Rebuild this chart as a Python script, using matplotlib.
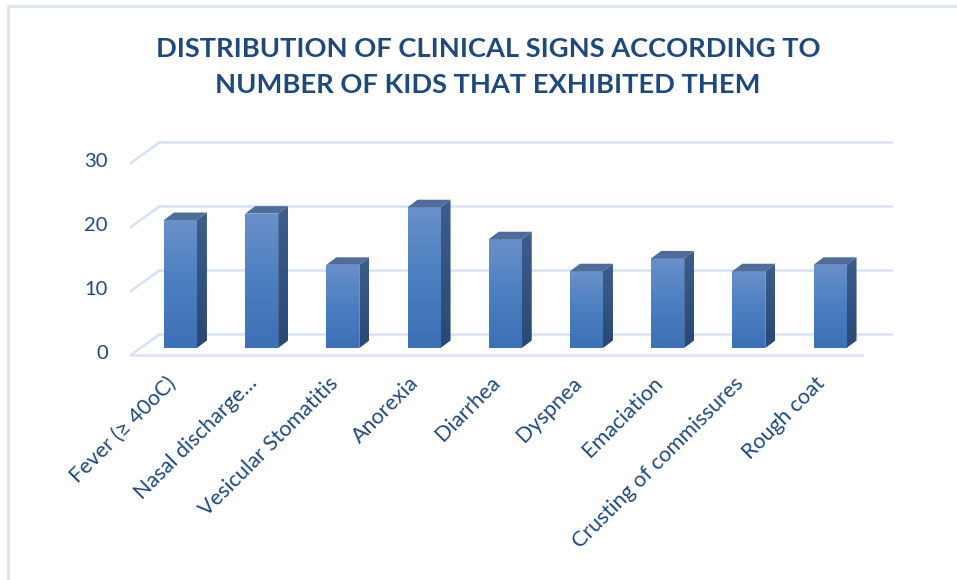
import numpy as np
import matplotlib.pyplot as plt
from matplotlib.patches import Polygon
from matplotlib.lines import Line2D

signs = ['Fever (≥ 40oC)', 'Nasal discharge…', 'Vesicular Stomatitis', 'Anorexia',
         'Diarrhea', 'Dyspnea', 'Emaciation', 'Crusting of commissures', 'Rough coat']
kids = [20, 21, 13, 22, 17, 12, 14, 12, 13]
yticks = [0, 10, 20, 30]

title = 'DISTRIBUTION OF CLINICAL SIGNS ACCORDING TO\nNUMBER OF KIDS THAT EXHIBITED THEM'
dark = '#1f497d'
grid_c = '#d6e2f2'

plt.rcParams['font.family'] = ['Lato', 'DejaVu Sans']

fig = plt.figure(figsize=(9.57, 5.8), dpi=100)
ax = fig.add_axes([100 / 957, 200 / 580, 800 / 957, 280 / 580])
ax.set_xlim(-0.991, 8.861)
ax.set_ylim(-5, 38.75)
ax.axis('off')

# perspective offsets (data units)
back_dx, back_dy = 0.357, 3.28      # front floor edge -> back wall
front_y = -1.09                      # front floor line relative to bar base
x_front0, x_front1 = -0.61, 8.393
bar_w = 0.406
dep_x, dep_y = 0.123, 1.17          # bar depth

# gridlines: back horizontal + left diagonal
for v in yticks:
    y0 = v + front_y
    ax.plot([x_front0, x_front0 + back_dx], [y0, y0 + back_dy], color=grid_c, lw=1.8, zorder=1)
    ax.plot([x_front0 + back_dx, x_front1 + back_dx], [y0 + back_dy, y0 + back_dy],
            color=grid_c, lw=1.8, zorder=1)
ax.plot([x_front0, x_front1], [front_y, front_y], color=grid_c, lw=1.8, zorder=1)

for v in yticks:
    ax.text(-0.893, v - 0.8, str(v), ha='right', va='center', fontsize=14.5, color=dark)

grad = np.linspace(0, 1, 100).reshape(-1, 1)
front_cmap = plt.matplotlib.colors.LinearSegmentedColormap.from_list('f', ['#3d70b4', '#4a7fc1', '#6a90c9'])
side_cmap = plt.matplotlib.colors.LinearSegmentedColormap.from_list('s', ['#284876', '#3d5e8c'])

bars = ax.bar(range(len(kids)), kids, width=bar_w, color='none', zorder=3)
for i, (b, v) in enumerate(zip(bars, kids)):
    x0 = b.get_x()
    x1 = x0 + bar_w
    im = ax.imshow(grad, extent=(x0, x1, 0, v), origin='lower', cmap=front_cmap,
                   aspect='auto', zorder=3)
    im.set_clip_path(b)
    side = Polygon([(x1, 0), (x1 + dep_x, dep_y), (x1 + dep_x, v + dep_y), (x1, v)],
                   closed=True, facecolor='none', edgecolor='none', zorder=3)
    ax.add_patch(side)
    ims = ax.imshow(grad, extent=(x1, x1 + dep_x, 0, v + dep_y), origin='lower',
                    cmap=side_cmap, aspect='auto', zorder=3)
    ims.set_clip_path(side)
    top = Polygon([(x0, v), (x0 + dep_x, v + dep_y), (x1 + dep_x, v + dep_y), (x1, v)],
                  closed=True, facecolor='#4f6d98', edgecolor='none', zorder=4)
    ax.add_patch(top)
    ax.text(i - 0.1, -5.0, signs[i], rotation=45, rotation_mode='anchor',
            ha='right', va='center', fontsize=15.5, color=dark)

ax.set_xlim(-0.991, 8.861)
ax.set_ylim(-5, 38.75)

fig.text(488 / 957, 1 - 67 / 580, title, ha='center', va='center', fontsize=19.6,
         fontweight='bold', color=dark, linespacing=1.6)

fig.add_artist(Line2D([8 / 957, 8 / 957], [0, 1 - 6 / 580], color='#dae3f3', lw=2))
fig.add_artist(Line2D([8 / 957, 1], [1 - 6 / 580, 1 - 6 / 580], color='#dae3f3', lw=2))

fig.savefig('out.png', dpi=100)
